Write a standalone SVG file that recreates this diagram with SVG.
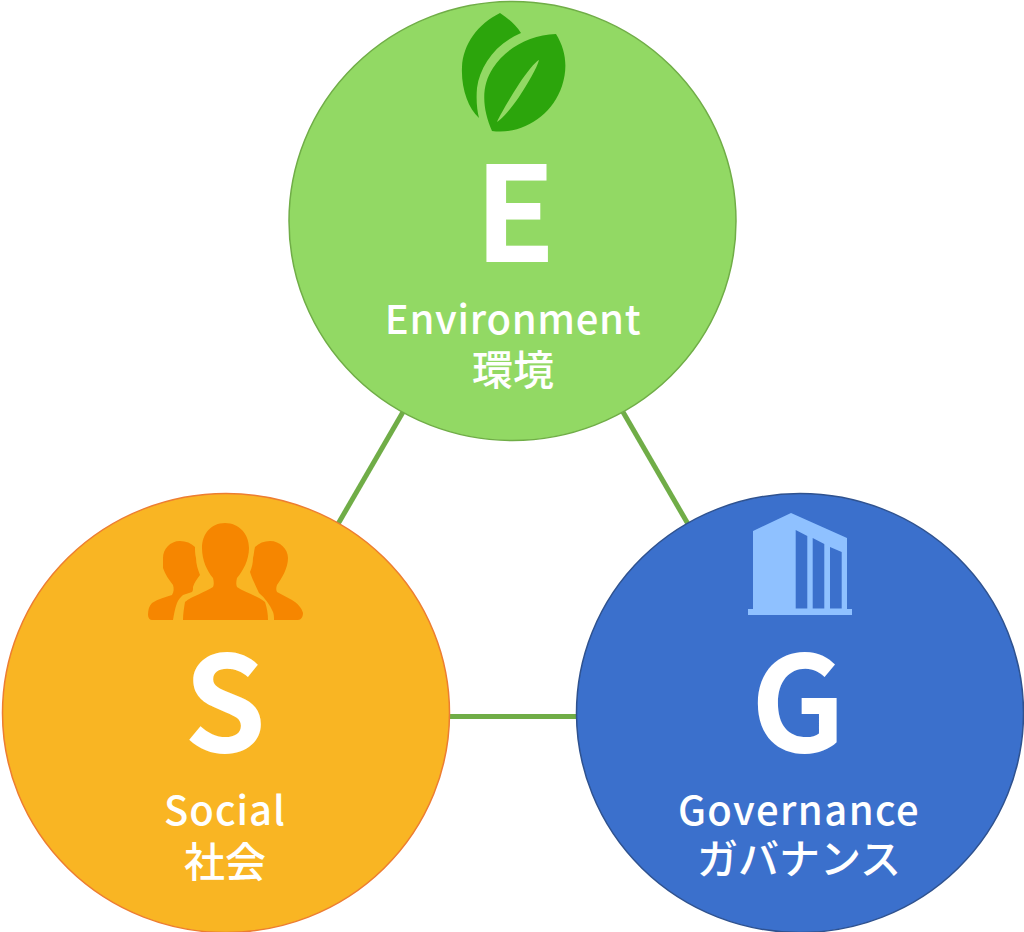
<svg xmlns="http://www.w3.org/2000/svg" width="1024" height="932" viewBox="0 0 1024 932">
<style>
text{fill:#fff;text-anchor:middle;font-family:"Noto Sans CJK JP","Noto Sans",sans-serif;font-weight:500}
.big{font-size:132px;font-weight:600}
.lbl{font-size:40px;letter-spacing:1px}
.jp{font-size:41px}
.ln{stroke:#70ad47;stroke-width:5;fill:none}
</style>
<g id="connectors">
<line class="ln" x1="403" y1="412" x2="338" y2="524"/>
<line class="ln" x1="623" y1="412" x2="688" y2="524"/>
<line class="ln" x1="449" y1="716.500" x2="577" y2="716.500"/>
</g>
<g id="node-e">
<ellipse cx="512.500" cy="221" rx="223.500" ry="219.500" fill="#92d964" stroke="#70ad47" stroke-width="1.500"/>
<path fill="#2ca50c" d="M500 13C509 19 516 25 521 33C495 44 480 66 477 88C476 100 477 110 479 118C468 108 461 88 462 67C463 44 478 24 500 13Z"/>
<path fill="#2ca50c" fill-rule="evenodd" d="M556 34C566 50 568 68 562 86C552 116 522 135 492 131C482 108 481 86 493 68C506 48 530 35 556 34ZM539 60C535 62 527 72 519 84C510 98 500 115 497 122C501 120 510 110 519 97C528 83 537 68 539 60Z"/>
<text class="big" x="515" y="262">E</text>
<text class="lbl" x="513" y="334" style="letter-spacing:.7px">Environment</text>
<text class="jp" x="513" y="385">環境</text>
</g>
<g id="node-s">
<ellipse cx="226" cy="713" rx="223.500" ry="219.500" fill="#f9b523" stroke="#ed7d31" stroke-width="1.500"/>
<path fill="#f68600" d="M225 523C239 523 249 534 249 548C249 560 243 571 237 578C236 582 236 585 237 587C244 592 258 596 265 602C267 608 268 614 268 620H183C183 614 184 608 185 602C192 596 206 592 213 587C214 585 214 582 213 578C207 571 202 560 202 548C202 534 211 523 225 523Z"/>
<path fill="#f68600" d="M180 541C186 541 191 543 195 547C195 551 195 554 196 558C196 564 198 570 200 575C197 579 194 583 193 587C193 589 193 591 192 592C189 593 186 594 183 595C180 598 178 600 177 603C175 608 174 614 173 620H152C150 620 148 618 148 615C148 610 149 606 152 603C158 599 166 597 172 595C174 592 174 588 173 585C169 580 165 574 163 568C163 565 163 561 163 558C163 549 170 541 180 541Z"/>
<path fill="#f68600" d="M270 541C280 541 288 549 288 558C288 568 282 578 277 585C276 588 276 590 277 592C282 595 287 597 292 600C297 603 302 608 303 613C303 617 301 620 298 620H274C274 617 274 615 273 612C270 605 265 598 259 593C256 586 252 579 250 572C252 567 253 563 253 558C254 554 254 551 255 547C259 543 264 541 270 541Z"/>
<text class="big" x="225" y="752">S</text>
<text class="lbl" x="225" y="825">Social</text>
<text class="jp" x="225" y="877">社会</text>
</g>
<g id="node-g">
<ellipse cx="800" cy="713" rx="223.500" ry="219.500" fill="#3b70cc" stroke="#2f528f" stroke-width="1.500"/>
<path fill="#8fc1ff" fill-rule="evenodd" d="M791 513L847 538V609H852V615H748V609H753V531ZM795.700 530V608.500H807.300V536ZM812.700 538V608.500H824.300V544ZM830 547V608.500H841.700V552Z"/>
<text class="big" x="798" y="752">G</text>
<text class="lbl" x="799" y="825" style="letter-spacing:1.400px">Governance</text>
<text class="jp" x="799" y="874">ガバナンス</text>
</g>
</svg>
